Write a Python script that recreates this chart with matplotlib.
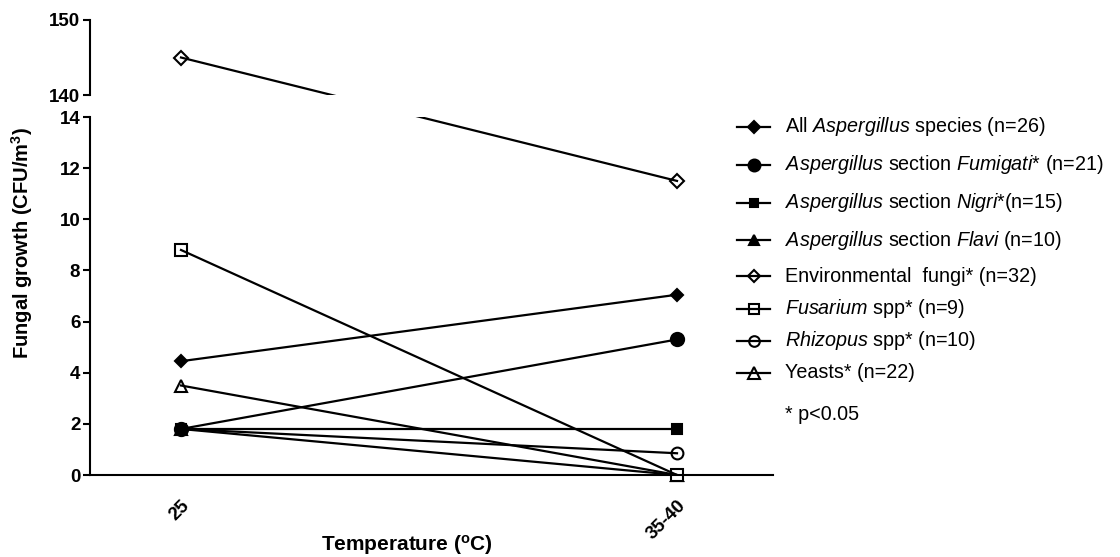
import matplotlib
matplotlib.use("Agg")
import matplotlib.pyplot as plt
import matplotlib.transforms as mtransforms
import numpy as np

plt.rcParams['font.family'] = ['Liberation Sans', 'DejaVu Sans']
plt.rcParams['mathtext.fontset'] = 'custom'
plt.rcParams['mathtext.rm'] = 'Liberation Sans'
plt.rcParams['mathtext.it'] = 'Liberation Sans:italic'
plt.rcParams['mathtext.bf'] = 'Liberation Sans:bold'

# data
temps = ["25", "35-40"]
all_asp = [4.45, 7.05]
fumigati = [1.8, 5.3]
nigri = [1.8, 1.8]
flavi = [1.8, 0.0]
env_fungi = [145.0, 11.5]
fusarium = [8.8, 0.0]
rhizopus = [1.8, 0.85]
yeasts = [3.5, 0.0]

labels = [
    r"All $\mathit{Aspergillus}$ species (n=26)",
    r"$\mathit{Aspergillus}$ section $\mathit{Fumigati}$* (n=21)",
    r"$\mathit{Aspergillus}$ section $\mathit{Nigri}$*(n=15)",
    r"$\mathit{Aspergillus}$ section $\mathit{Flavi}$ (n=10)",
    "Environmental  fungi* (n=32)",
    r"$\mathit{Fusarium}$ spp* (n=9)",
    r"$\mathit{Rhizopus}$ spp* (n=10)",
    "Yeasts* (n=22)",
]
bottom_ticks = [0, 2, 4, 6, 8, 10, 12, 14]
top_ticks = [140, 150]
BREAK = 140

# marker, filled, size, draw order of the symbol
styles = [
    ('D', True, 6.5, 8),
    ('o', True, 9.5, 7),
    ('s', True, 6.8, 3),
    ('^', True, 8, 1),
    ('D', False, 7, 6),
    ('s', False, 8, 5),
    ('o', False, 8.5, 2),
    ('^', False, 9, 4),
]
values = [all_asp, fumigati, nigri, flavi, env_fungi, fusarium, rhizopus, yeasts]

W, H = 1120, 557
fig = plt.figure(figsize=(W / 100, H / 100), dpi=100)

left, right = 90, 773
ax = fig.add_axes([left / W, 1 - 475 / H, (right - left) / W, (475 - 117) / H])
ax_top = fig.add_axes([left / W, 1 - 95 / H, (right - left) / W, 75 / H])

xpos = np.arange(len(temps))
xlim = (-(181 - left) / 496, 1 + (right - 677) / 496)
for a in (ax, ax_top):
    a.set_xlim(*xlim)
    a.spines['top'].set_visible(False)
    a.spines['right'].set_visible(False)
    a.spines['left'].set_linewidth(1.5)
    a.spines['bottom'].set_linewidth(1.5)
    a.tick_params(axis='y', length=5, width=1.5, pad=2)
ax.set_ylim(0, 14)
ax_top.set_ylim(140, 150)
ax_top.spines['bottom'].set_visible(False)
ax_top.set_xticks([])

ax.set_yticks(bottom_ticks, labels=[str(t) for t in bottom_ticks],
              fontweight='bold', fontsize=13.5)
ax_top.set_yticks(top_ticks, labels=[str(t) for t in top_ticks],
                  fontweight='bold', fontsize=13.5)
ax.set_xticks(xpos, labels=temps, rotation=45, ha='right', va='center',
              rotation_mode='anchor', fontweight='bold', fontsize=13.5)
ax.tick_params(axis='x', length=0, pad=20)
shift = mtransforms.ScaledTranslation(6 / 100, 0, fig.dpi_scale_trans)
for lbl in ax.get_xticklabels():
    lbl.set_transform(lbl.get_transform() + shift)

# lines are drawn in screen space so they run straight across the break
for vals, (mk, filled, ms, order) in zip(values, styles):
    disp = []
    for xi, v in zip(xpos, vals):
        a = ax_top if v >= BREAK else ax
        disp.append(a.transData.transform((xi, v)))
    disp = np.array(disp)
    for a in (ax, ax_top):
        pts = a.transData.inverted().transform(disp)
        a.plot(pts[:, 0], pts[:, 1], color='k', lw=1.6, zorder=3)
    for xi, v in zip(xpos, vals):
        a = ax_top if v >= BREAK else ax
        a.plot([xi], [v], ls='none', marker=mk, ms=ms, mec='k', mew=1.5,
               mfc='k' if filled else 'white', zorder=2 + order * 0.01,
               clip_on=False)

fig.text(22 / W, 1 - 243 / H, r"Fungal growth (CFU/m$^{\mathbf{3}}$)",
         rotation=90, ha='center', va='center', fontweight='bold', fontsize=14.5)
fig.text(407 / W, 1 - 545 / H, r"Temperature ($^{\mathbf{o}}$C)",
         ha='center', va='center', fontweight='bold', fontsize=15)

# legend drawn by hand in pixel space
lax = fig.add_axes([0, 0, 1, 1])
lax.set_xlim(0, W)
lax.set_ylim(H, 0)
lax.axis('off')
lax.patch.set_visible(False)
rows = [127, 165, 203, 240, 276, 309, 341, 373]
for row, lab, (mk, filled, ms, order) in zip(rows, labels, styles):
    lax.plot([753.5], [row], ls='none', marker=mk, ms=ms * 0.9, mec='k', mew=1.5,
             mfc='k' if filled else 'white', zorder=2)
    lax.plot([737, 770], [row, row], color='k', lw=1.6, zorder=3)
    lax.text(785, row, lab, ha='left', va='center', fontsize=14.2)
lax.text(785, 415, "* p<0.05", ha='left', va='center', fontsize=14.2)

fig.savefig("out.png", dpi=100)
